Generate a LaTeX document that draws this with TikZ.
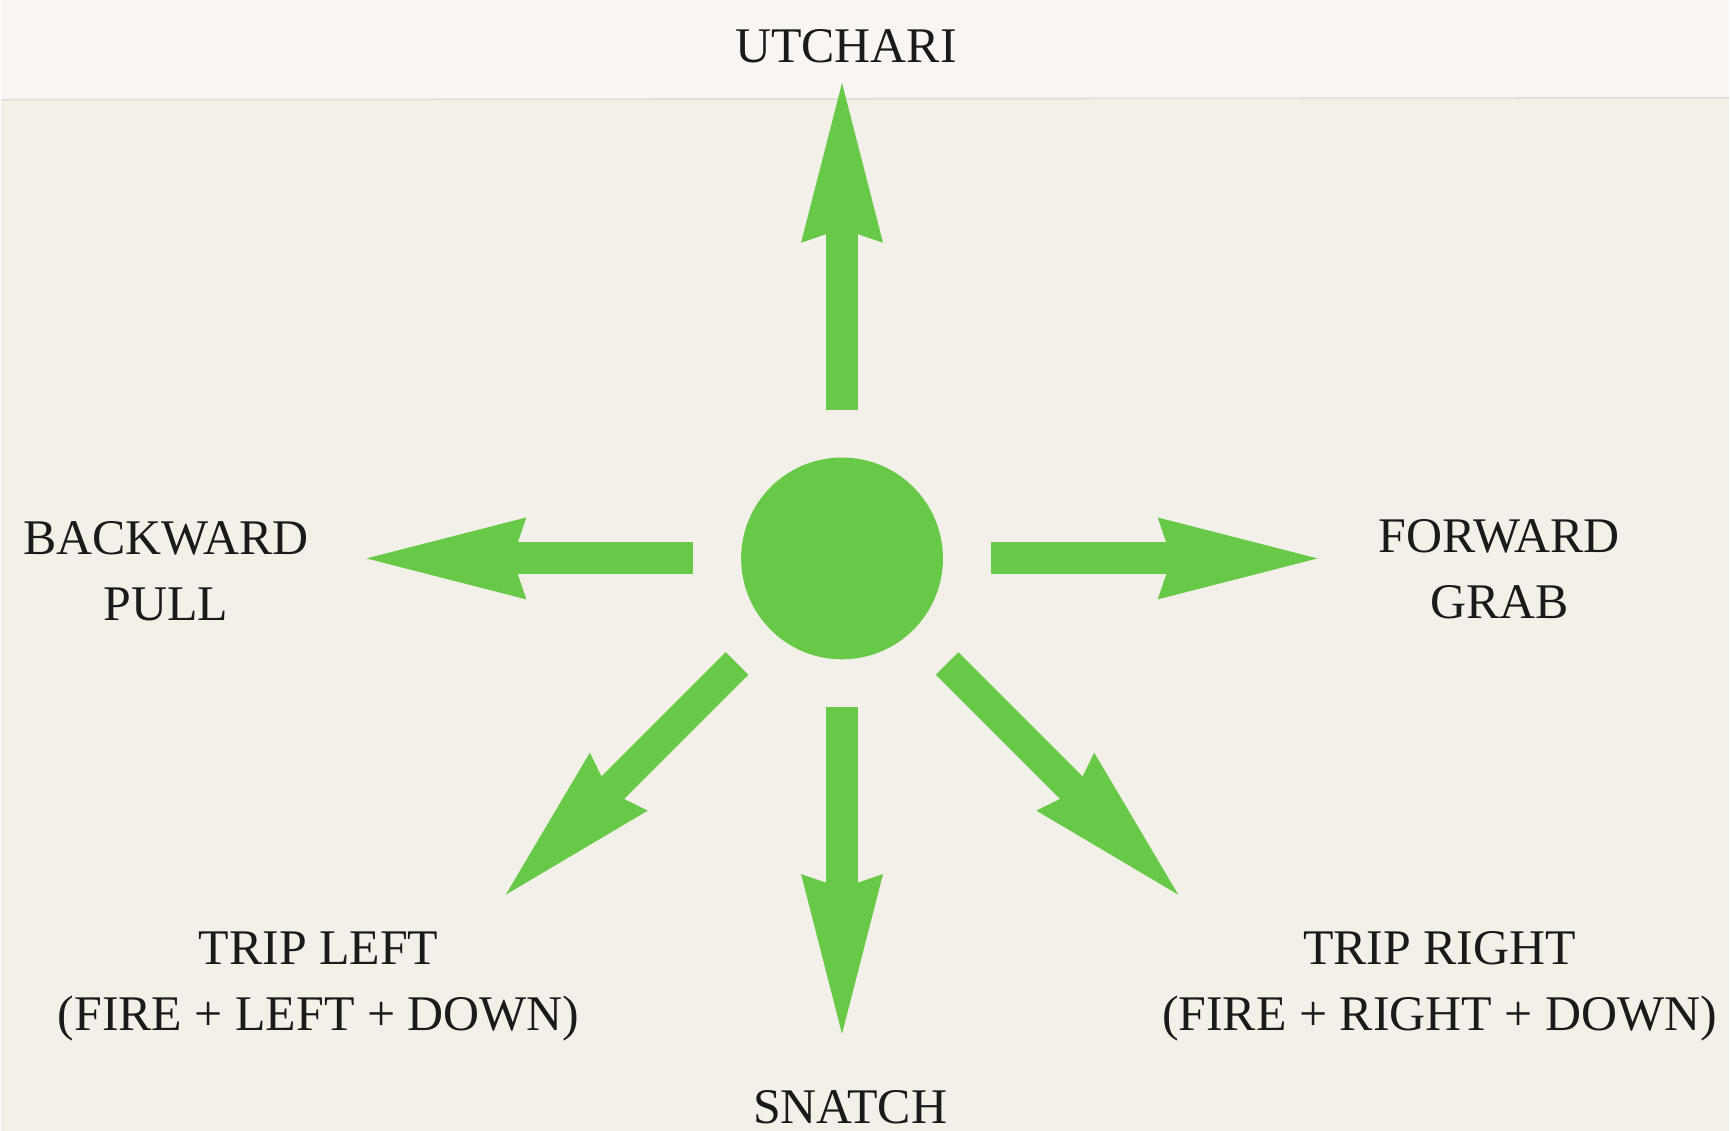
\documentclass[tikz,border=0pt]{standalone}
\usepackage{fontspec}
\setmainfont{Liberation Serif}
\usetikzlibrary{arrows.meta,positioning,calc}
\definecolor{paper}{RGB}{243,239,233}
\definecolor{grass}{RGB}{104,201,72}
\definecolor{ink}{RGB}{28,26,24}
\tikzset{
  disc/.style={circle,fill=#1,inner sep=0pt,minimum size=20.2mm},
  disc/.default=grass,
  flow/.style={draw=#1,line width=3.2mm,shorten <=4.7mm,
    -{Stealth[length=16mm,width=8.2mm,inset=1.4mm,line width=0pt]}},
  flow/.default=grass,
  tag/.style={font=\fontsize{14.2}{18.8}\selectfont,text=ink,align=center,
    anchor=base,inner sep=0pt},
}
\begin{document}
\begin{tikzpicture}
  \fill[paper] (0,0) rectangle (17.30,11.32);
  \fill[paper!60!white] (0,10.33) rectangle (17.30,11.32);
  \draw[paper!93!black,line width=0.5pt] (0,10.32) -- (17.30,10.34);
  % joystick and its six moves
  \node[disc] (stick) at (8.42,5.73) {};
  \foreach \a/\n in {90/utchari,0/grab,180/pull,225/tripl,270/snatch,315/tripr}
    \coordinate (\n) at ([shift={(\a:4.76)}]stick.center);
  \foreach \n in {utchari,grab,pull,tripl,snatch,tripr}
    \draw[flow] (stick) -- (\n);
  \node[tag] (lblU) at (8.46,10.69) {UTCHARI};
  \node[tag] (lblB) at (1.65,5.11) {BACKWARD\\PULL};
  \node[tag] (lblF) at (15.00,5.13) {FORWARD\\GRAB};
  \node[tag] (lblTL) at (3.18,1.00) {TRIP LEFT\\(FIRE + LEFT + DOWN)};
  \node[tag] (lblTR) at (14.40,1.00) {TRIP RIGHT\\(FIRE + RIGHT + DOWN)};
  \node[tag] (lblS) at (8.50,0.07) {SNATCH};
\end{tikzpicture}
\end{document}
